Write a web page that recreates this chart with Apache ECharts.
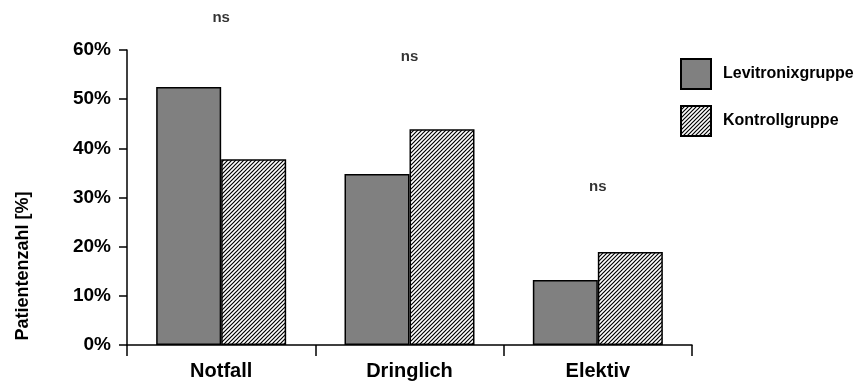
<!DOCTYPE html>
<html>
<head>
<meta charset="utf-8">
<script src="https://cdn.jsdelivr.net/npm/echarts@6/dist/echarts.min.js"></script>
<style>html,body{margin:0;padding:0;background:#fff;}#c{width:860px;height:381px;}</style>
</head>
<body>
<div id="c"></div>
<script>
const categories = ['Notfall', 'Dringlich', 'Elektiv'];
const levitronix = [52.5, 34.8, 13.2];
const kontroll = [37.8, 43.9, 18.9];
const nsPositions = [66.5, 58.6, 32.1];
const nsText = ['ns', 'ns', 'ns'];
const yTicks = [0, 10, 20, 30, 40, 50, 60];

const pc = document.createElement('canvas');
pc.width = 4; pc.height = 4;
const ctx = pc.getContext('2d');
ctx.fillStyle = '#fff';
ctx.fillRect(0, 0, 4, 4);
ctx.strokeStyle = '#000';
ctx.lineWidth = 1.2;
ctx.beginPath();
ctx.moveTo(0, 4); ctx.lineTo(4, 0);
ctx.moveTo(-1, 1); ctx.lineTo(1, -1);
ctx.moveTo(3, 5); ctx.lineTo(5, 3);
ctx.stroke();

const font = 'Liberation Sans';
const chart = echarts.init(document.getElementById('c'), null, {renderer: 'canvas'});
chart.setOption({
  animation: false,
  backgroundColor: '#fff',
  grid: {left: 127, right: 168, top: 50, bottom: 36, containLabel: false},
  legend: {
    data: ['Levitronixgruppe', 'Kontrollgruppe'],
    orient: 'vertical', left: 675, top: 53,
    itemWidth: 30, itemHeight: 30, itemGap: 15,
    icon: 'rect', selectedMode: false,
    textStyle: {fontFamily: font, fontWeight: 'bold', fontSize: 16, color: '#000', padding: [0, 0, 0, 7]}
  },
  xAxis: {
    type: 'category', data: categories,
    axisLine: {lineStyle: {color: '#000', width: 1.5}},
    axisTick: {show: true, length: 11, lineStyle: {color: '#000', width: 1.5}},
    axisLabel: {fontFamily: font, fontWeight: 'bold', fontSize: 20, color: '#000', margin: 16}
  },
  yAxis: {
    type: 'value', min: yTicks[0], max: yTicks[yTicks.length - 1], interval: 10,
    axisLine: {show: true, lineStyle: {color: '#000', width: 1.5}},
    axisTick: {show: true, length: 8, lineStyle: {color: '#000', width: 1.5}},
    splitLine: {show: false},
    axisLabel: {formatter: '{value}%', fontFamily: font, fontWeight: 'bold', fontSize: 19, color: '#000', margin: 16}
  },
  graphic: [{
    type: 'text', x: 23, y: 266, rotation: Math.PI / 2,
    style: {text: 'Patientenzahl [%]', fontFamily: font, fontWeight: 'bold', fontSize: 18, fill: '#000', align: 'center', verticalAlign: 'middle'}
  }],
  series: [
    {
      name: 'Levitronixgruppe', type: 'bar', data: levitronix, barWidth: 65, barGap: '0%',
      itemStyle: {color: '#808080', borderColor: '#000', borderWidth: 1.5}
    },
    {
      name: 'Kontrollgruppe', type: 'bar', data: kontroll, barWidth: 65, barGap: '0%',
      itemStyle: {color: {image: pc, repeat: 'repeat'}, borderColor: '#000', borderWidth: 1.5}
    },
    {
      name: 'sig', type: 'scatter', clip: false, symbolSize: 1,
      data: nsPositions.map((v, i) => [i, v]),
      itemStyle: {color: 'transparent'},
      label: {show: true, position: 'inside', formatter: p => nsText[p.dataIndex], fontFamily: font, fontWeight: 'bold', fontSize: 15, color: '#000'}
    }
  ]
});
</script>
</body>
</html>
